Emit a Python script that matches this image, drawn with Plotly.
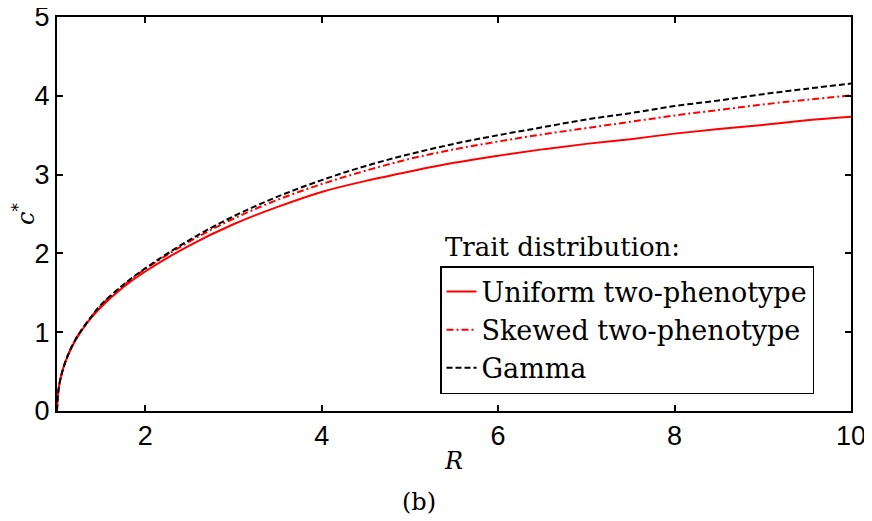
import plotly.graph_objects as go

R_vals = [1.0, 1.01, 1.03, 1.06, 1.1, 1.2, 1.35, 1.5, 1.75, 2.0, 2.5, 3.0, 3.5, 4.0,
          4.5, 5.0, 5.5, 6.0, 6.5, 7.0, 7.5, 8.0, 8.5, 9.0, 9.5, 10.0]
uniform = [0.0, 0.2, 0.36, 0.5, 0.64, 0.88, 1.13, 1.32, 1.57, 1.77, 2.1, 2.37, 2.59, 2.78,
           2.92, 3.04, 3.15, 3.24, 3.32, 3.39, 3.45, 3.52, 3.58, 3.63, 3.69, 3.735]
skewed = [0.0, 0.2, 0.36, 0.5, 0.64, 0.89, 1.14, 1.34, 1.59, 1.8, 2.15, 2.44, 2.68, 2.88,
          3.05, 3.2, 3.32, 3.42, 3.51, 3.59, 3.67, 3.75, 3.82, 3.89, 3.95, 4.005]
gamma = [0.0, 0.2, 0.36, 0.5, 0.64, 0.89, 1.14, 1.35, 1.6, 1.81, 2.17, 2.47, 2.72, 2.93,
         3.11, 3.26, 3.39, 3.5, 3.6, 3.7, 3.78, 3.87, 3.94, 4.02, 4.09, 4.155]

names = ["Uniform two-phenotype", "Skewed two-phenotype", "Gamma"]
x_ticks = [2, 4, 6, 8, 10]
y_ticks = [0, 1, 2, 3, 4, 5]

fig = go.Figure()
fig.add_trace(go.Scatter(x=R_vals, y=uniform, mode="lines", name=names[0], legendgroup="a",
                         line=dict(color="#ff0000", width=2, shape="spline")))
fig.add_trace(go.Scatter(x=R_vals, y=skewed, mode="lines", name=names[1], legendgroup="b",
                         line=dict(color="#ff0000", width=2, dash="7px,3px,2px,3px", shape="spline")))
fig.add_trace(go.Scatter(x=R_vals, y=gamma, mode="lines", name=names[2], legendgroup="c",
                         line=dict(color="#000000", width=2, dash="6px,3px", shape="spline")))

axis_common = dict(showline=True, linecolor="black", linewidth=2, mirror="ticks",
                   ticks="inside", ticklen=6, tickwidth=1.5, tickcolor="black",
                   showgrid=False, zeroline=False, automargin=False,
                   ticklabeloverflow="allow",
                   tickfont=dict(family="Liberation Sans, Arial", size=27, color="black"))

serif = "DejaVu Serif, serif"

# the page body adds an 8px offset, so the figure is sized to fit the window
fig.update_layout(
    width=864, height=513,
    margin=dict(l=49, r=21, t=9, b=110),
    paper_bgcolor="white", plot_bgcolor="white",
    xaxis=dict(range=[1, 10], tickvals=x_ticks, **axis_common,
               title=dict(text="<i>R</i>", standoff=2,
                          font=dict(family=serif, size=24, color="black"))),
    yaxis=dict(range=[0, 5], tickvals=y_ticks, **axis_common,
               title=dict(text="<i>c</i><sup>*</sup>", standoff=6,
                          font=dict(family=serif, size=24, color="black"))),
    legend=dict(x=(440 - 57) / 794, y=(411 - 266) / 394, xanchor="left", yanchor="top",
                bgcolor="white", bordercolor="black", borderwidth=1.5,
                font=dict(family=serif, size=27, color="black"),
                itemwidth=30, tracegroupgap=0),
    showlegend=True,
    annotations=[
        dict(text="Trait distribution:", xref="paper", yref="paper",
             x=(443 - 57) / 794, y=(411 - 247) / 394, xanchor="left", yanchor="middle",
             showarrow=False, font=dict(family=serif, size=26, color="black")),
        dict(text="(b)", xref="paper", yref="paper",
             x=(419 - 57) / 794, y=(411 - 502) / 394, xanchor="center", yanchor="middle",
             showarrow=False, font=dict(family=serif, size=24, color="black")),
    ],
)

fig.write_html("out.html")
